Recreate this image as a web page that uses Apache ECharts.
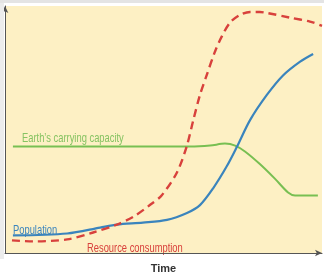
<!DOCTYPE html>
<html>
<head>
<meta charset="utf-8">
<script src="https://cdn.jsdelivr.net/npm/echarts@6/dist/echarts.min.js"></script>
<style>
  html, body { margin: 0; padding: 0; background: #fff; }
  #chart { width: 324px; height: 279px; }
</style>
</head>
<body>
<div id="chart"></div>
<script>
// time runs 0..100, level 0..100 (no units shown on the original)
const capacity = [
  [2.5, 43.1], [30, 43.1], [58.4, 43.1], [64.7, 43.5], [69.4, 44.3],
  [72.6, 43.5], [75.7, 41.1], [80.4, 36], [85.2, 30], [89.3, 24.5],
  [91.5, 23.3], [98.7, 23.3]
]
const population = [
  [2.5, 7.1], [19.6, 7.9], [30, 10.3], [35.3, 11.5], [43.5, 12.3],
  [51.1, 13.4], [57.4, 16.2], [61.5, 19.4], [65.6, 26.1], [70, 35.2],
  [73.2, 43.1], [77.3, 53.8], [82.6, 64], [87.7, 71.9], [93.1, 77.5],
  [97.2, 80.6]
]
const consumption = [
  [2.2, 5.1], [8.8, 4.7], [19.6, 5.5], [27.8, 8.3], [35.3, 11.5],
  [40.4, 14.6], [45.7, 19.4], [49.4, 23.3], [54.2, 32.5], [57.3, 43.1],
  [59.4, 53.8], [61.5, 64], [63.6, 71.9], [66.2, 81.4], [68.4, 87.7],
  [71, 93.3], [74.1, 96.4], [77.3, 97.6], [80.4, 97.6], [82.6, 97.2],
  [89.9, 95.3], [96.2, 93.7], [100, 92]
]
const labelFont = '13px "Liberation Sans", Arial, sans-serif'

const chart = echarts.init(document.getElementById('chart'))

const lineSeries = (name, data, color, width, type) => ({
  name: name,
  type: 'line',
  data: data,
  smooth: 0.3,
  showSymbol: false,
  lineStyle: { color: color, width: width, type: type || 'solid' }
})

// condensed-looking text label placed in the plot
const label = (text, left, top, color) => ({
  type: 'text', left: left, top: top, scaleX: 0.72,
  style: { text: text, fill: color, font: labelFont }
})

chart.setOption({
  animation: false,
  grid: {
    left: 5, right: 2, top: 6, bottom: 20,
    show: true, backgroundColor: '#fdf0c4', borderWidth: 0
  },
  xAxis: {
    type: 'value',
    min: 0,
    max: 100,
    name: 'Time',
    nameLocation: 'middle',
    nameGap: 10,
    nameTextStyle: { fontSize: 11, fontWeight: 'bold', color: '#333', fontFamily: '"Liberation Sans", Arial, sans-serif' },
    axisLine: { lineStyle: { color: '#555', width: 1 }, symbol: ['none', 'arrow'], symbolSize: [5, 7] },
    axisTick: { show: false },
    axisLabel: { show: false },
    splitLine: { show: false }
  },
  yAxis: {
    type: 'value',
    min: 0,
    max: 100,
    axisLine: { show: true, lineStyle: { color: '#555', width: 1 }, symbol: ['none', 'arrow'], symbolSize: [5, 7] },
    axisTick: { show: false },
    axisLabel: { show: false },
    splitLine: { show: false }
  },
  series: [
    lineSeries('Earth\u2019s carrying capacity', capacity, '#78bf52', 2),
    lineSeries('Population', population, '#3a84bd', 2.2),
    lineSeries('Resource consumption', consumption, '#d8413c', 2.4, [8, 5])
  ],
  graphic: [
    {
      type: 'rect', left: 0, top: 0, z: 100,
      shape: { width: 324, height: 3 },
      style: { fill: '#e4e4e4' }
    },
    {
      type: 'rect', left: 0, top: 3, z: 100,
      shape: { width: 4, height: 256 },
      style: { fill: '#ececec' }
    },
    label('Earth\u2019s carrying capacity', 22, 132, '#86c362'),
    label('Population', 13, 224, '#3a84bd'),
    label('Resource consumption', 87, 242, '#d8413c')
  ]
})
</script>
</body>
</html>
